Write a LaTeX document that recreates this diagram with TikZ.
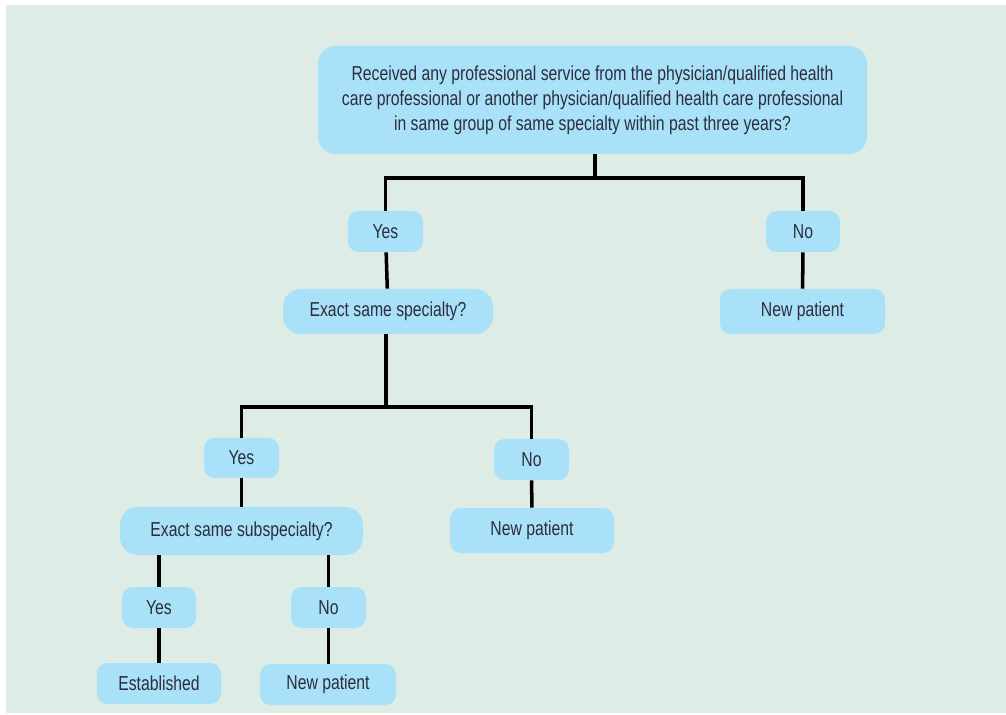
\documentclass[tikz,border=0pt]{standalone}
\usepackage{fontspec}
\setmainfont{Liberation Sans}[FakeStretch=0.78]
\usepackage{tikz}
\usetikzlibrary{positioning}
\definecolor{bgc}{RGB}{222,236,230}
\definecolor{bx}{RGB}{169,225,249}
\definecolor{tx}{RGB}{45,45,60}
\begin{document}
\begin{tikzpicture}[
  box/.style={fill=bx, rounded corners=6pt, align=center, text=tx, font=\fontsize{11.5}{14.2}\selectfont, inner sep=2pt},
  bigbox/.style={box, rounded corners=10pt},
  link/.style={line width=2pt, black}
]
\useasboundingbox (0,0) rectangle (20.12,-14.3);
\fill[bgc] (0.12,-0.1) rectangle (20.12,-14.26);
% top question
\node[bigbox, minimum width=10.98cm, minimum height=2.16cm] (q1) at (11.85,-2.0)
  {Received any professional service from the physician/qualified health\\
   care professional or another physician/qualified health care professional\\
   in same group of same specialty within past three years?};
\node[box, minimum width=1.5cm, minimum height=0.82cm] (yes1) at (7.71,-4.63) {Yes};
\node[box, minimum width=1.48cm, minimum height=0.82cm] (no1) at (16.06,-4.63) {No};
\node[box, minimum width=3.3cm, minimum height=0.9cm] (np1) at (16.05,-6.23) {New patient};
\node[bigbox, minimum width=4.2cm, minimum height=0.9cm] (q2) at (7.76,-6.23) {Exact same specialty?};
% second level
\node[box, minimum width=1.5cm, minimum height=0.8cm] (yes2) at (4.83,-9.16) {Yes};
\node[box, minimum width=1.5cm, minimum height=0.82cm] (no2) at (10.63,-9.19) {No};
\node[box, minimum width=3.28cm, minimum height=0.9cm] (np2) at (10.64,-10.61) {New patient};
\node[bigbox, minimum width=4.86cm, minimum height=0.96cm] (q3) at (4.83,-10.62) {Exact same subspecialty?};
% third level
\node[box, minimum width=1.48cm, minimum height=0.82cm] (yes3) at (3.18,-12.15) {Yes};
\node[box, minimum width=1.5cm, minimum height=0.82cm] (no3) at (6.57,-12.15) {No};
\node[box, minimum width=2.48cm, minimum height=0.82cm] (est) at (3.18,-13.67) {Established};
\node[box, minimum width=2.72cm, minimum height=0.82cm] (np3) at (6.56,-13.69) {New patient};
% connectors
\coordinate (j1) at (11.9,-3.56);
\coordinate (j2) at (7.72,-8.14);
\draw[link] (q1.south -| j1) -- (j1);
\draw[link] (yes1.north) |- (j1) -| (no1.north);
\draw[link] (yes1) -- (q2);
\draw[link] (no1) -- (np1);
\draw[link] (q2.south -| j2) -- (j2);
\draw[link] (yes2.north) |- (j2) -| (no2.north);
\draw[link] (yes2) -- (q3);
\draw[link] (no2) -- (np2);
\draw[link] (q3.south -| yes3) -- (yes3);
\draw[link] (q3.south -| no3) -- (no3);
\draw[link] (yes3) -- (est);
\draw[link] (no3.south) -- (np3.north -| no3.south);
\end{tikzpicture}
\end{document}
